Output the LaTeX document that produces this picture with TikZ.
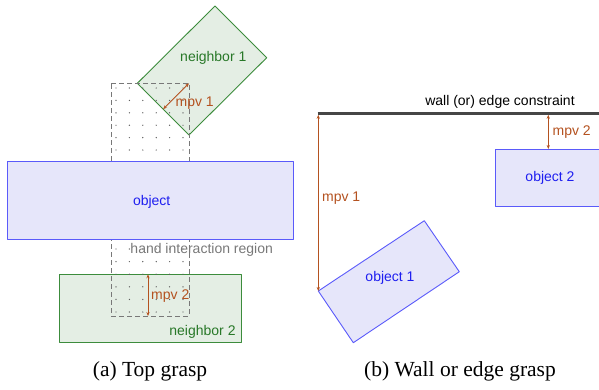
\documentclass[tikz,border=0pt]{standalone}
\usepackage{fontspec}
\setmainfont{Liberation Serif}
\setsansfont{Liberation Sans}
\usetikzlibrary{arrows.meta,calc}
\definecolor{mpvc}{RGB}{180,82,32}
\definecolor{grline}{RGB}{60,140,60}
\definecolor{grfill}{RGB}{228,238,228}
\definecolor{grtext}{RGB}{40,120,40}
\definecolor{blline}{RGB}{90,90,250}
\definecolor{blfill}{RGB}{230,230,250}
\definecolor{bltext}{RGB}{30,30,240}
\definecolor{wallc}{RGB}{70,70,70}
\definecolor{regc}{RGB}{120,120,120}
\tikzset{
  lbl/.style={font=\sffamily\fontsize{14}{16}\selectfont, inner sep=0pt},
  neigh/.style={draw=grline, fill=grfill, line width=0.9pt, line join=round},
  objbox/.style={draw=blline, fill=blfill, line width=0.9pt, line join=round},
  region/.style={draw=regc, line width=0.9pt, dash pattern=on 5pt off 3pt},
  mpv/.style={draw=mpvc, line width=0.9pt, {Stealth[length=4pt,width=3.2pt]}-{Stealth[length=4pt,width=3.2pt]}},
  regdot/.style={fill=regc!80!black},
  capt/.style={font=\fontsize{21.5}{24}\selectfont, inner sep=0pt}
}
\begin{document}
\begin{tikzpicture}[x=1pt,y=-1pt]
\useasboundingbox (0,0) rectangle (599,389);
% ---------- (a) top grasp ----------
% neighbor 1 (rotated)
\coordinate (n1t) at (215,6);
\coordinate (n1r) at (266.7,57.7);
\coordinate (n1b) at (189,135);
\coordinate (n1l) at (137.3,83.3);
\draw[neigh] (n1t) -- (n1r) -- (n1b) -- (n1l) -- cycle;
\node[lbl, text=grtext] (n1lab) at (213.3,57.7) {neighbor 1};
% neighbor 2
\draw[neigh] (59,274.3) rectangle (241,342.3);
\node[lbl, text=grtext] (n2lab) at (202.5,331.7) {neighbor 2};
% hand interaction region
\coordinate (rtl) at (111,83.3);
\coordinate (rtr) at (189,83.3);
\coordinate (rbl) at (111,316);
\coordinate (rbr) at (189,316);
\draw[region] (rtl) -- (rtr) -- (rbr) -- (rbl) -- cycle;
\foreach \i in {0,...,5} {
  \foreach \j in {0,...,5} {
    \fill[regdot] (116+13.4*\i, 88+12.4*\j) circle (0.7pt);
    \fill[regdot] (116+13.4*\i, 249+12.6*\j) circle (0.7pt);
  }
}
% object
\draw[objbox] (7.3,161) rectangle (293.3,239);
\node[lbl, text=bltext] (objlab) at (151.7,202.3) {object};
\node[lbl, text=regc] (reglab) at (201.7,250) {hand interaction region};
% mpv arrows
\coordinate (m1s) at ($(n1l)!0.5!(n1b)$);
\path[mpv] (m1s) -- (rtr);
\node[lbl, text=mpvc] (m1lab) at (194.7,103.3) {mpv 1};
\coordinate (m2t) at (148,274.3);
\coordinate (m2b) at (148,316);
\path[mpv] (m2t) -- (m2b);
\node[lbl, text=mpvc] (m2lab) at (170.3,296.2) {mpv 2};
\node[capt] (capa) at (150,371.7) {(a) Top grasp};
% ---------- (b) wall or edge grasp ----------
\coordinate (wl) at (317.5,113.3);
\coordinate (wr) at (600,113.3);
\draw[wallc, line width=3pt] (wl) -- (wr);
\node[lbl] (walllab) at (500,101.7) {wall (or) edge constraint};
% object 1 (rotated)
\coordinate (o1l) at (318.3,291);
\coordinate (o1t) at (424.3,220.7);
\coordinate (o1r) at (459.3,271.7);
\coordinate (o1b) at (353.3,342.7);
\draw[objbox] (o1l) -- (o1t) -- (o1r) -- (o1b) -- cycle;
\node[lbl, text=bltext] (o1lab) at (390,278.3) {object 1};
% object 2
\draw[objbox] (495,149) rectangle (600,206.7);
\node[lbl, text=bltext] (o2lab) at (550,177.7) {object 2};
% mpv arrows
\coordinate (w1) at (318.3,114.8);
\path[mpv] (w1) -- (o1l);
\node[lbl, text=mpvc] (bm1lab) at (341.2,197.7) {mpv 1};
\coordinate (w2) at (548.3,114.8);
\coordinate (o2t) at (548.3,149);
\path[mpv] (w2) -- (o2t);
\node[lbl, text=mpvc] (bm2lab) at (571.7,131.7) {mpv 2};
\node[capt] (capb) at (460,371.7) {(b) Wall or edge grasp};
\end{tikzpicture}
\end{document}
